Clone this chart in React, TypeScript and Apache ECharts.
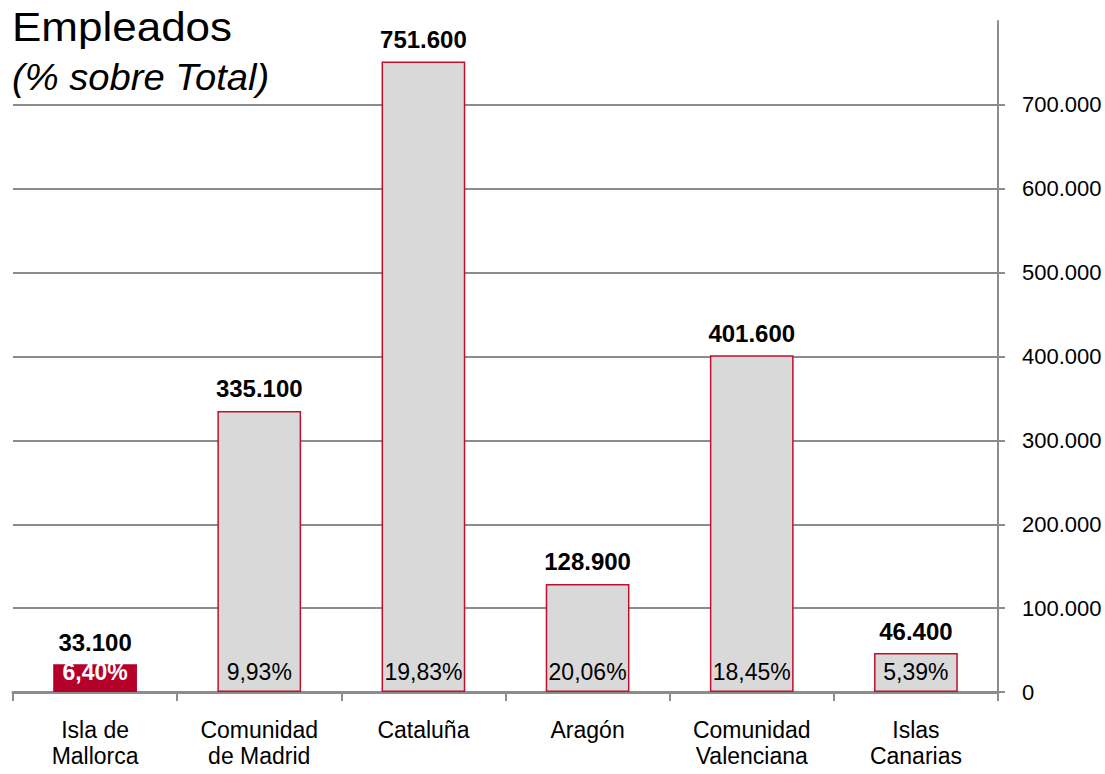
import React, { useEffect, useRef } from "react";
import * as echarts from "echarts";

const categories = [
  "Isla de\nMallorca",
  "Comunidad\nde Madrid",
  "Cataluña",
  "Aragón",
  "Comunidad\nValenciana",
  "Islas\nCanarias",
];
const empleados = [33100, 335100, 751600, 128900, 401600, 46400];
const percentLabels = ["6,40%", "9,93%", "19,83%", "20,06%", "18,45%", "5,39%"];
const highlightIndex = 0;
const titleText = "Empleados";
const subtitleText = "(% sobre Total)";
const yMin = 0;
const yMax = 800000;
const yInterval = 100000;

const fmt = (v: number) => String(Math.round(v)).replace(/\B(?=(\d{3})+(?!\d))/g, ".");

const FONT = "'Liberation Sans', Arial, sans-serif";
const RED = "#b5002a";
const GRAY = "#8c8c8c";

export default function App() {
  const ref = useRef<HTMLDivElement>(null);
  useEffect(() => {
    if (!ref.current) return;
    const chart = echarts.init(ref.current, undefined, { renderer: "svg" });
    chart.setOption({
      animation: false,
      backgroundColor: "#ffffff",
      graphic: [
        {
          type: "text",
          x: 12,
          y: 7,
          scaleX: 1.1,
          style: {
            text: titleText,
            font: `normal 40px ${FONT}`,
            fill: "#000",
            textVerticalAlign: "top",
            textAlign: "left",
          },
        },
        {
          type: "text",
          x: 12,
          y: 59,
          scaleX: 1.06,
          style: {
            text: subtitleText,
            font: `italic normal 36px ${FONT}`,
            fill: "#000",
            textVerticalAlign: "top",
            textAlign: "left",
          },
        },
      ],
      grid: { left: 13, right: 107, top: 21, bottom: 82 },
      xAxis: {
        type: "category",
        data: categories,
        axisLine: { show: true, lineStyle: { color: GRAY, width: 3 } },
        axisTick: { show: true, length: 9, lineStyle: { color: GRAY, width: 2 } },
        axisLabel: {
          margin: 25,
          fontFamily: FONT,
          fontSize: 23,
          lineHeight: 26,
          color: "#000",
          interval: 0,
        },
      },
      yAxis: {
        type: "value",
        position: "right",
        min: yMin,
        max: yMax,
        interval: yInterval,
        axisLine: { show: true, lineStyle: { color: GRAY, width: 2 } },
        axisTick: { show: true, inside: false, length: 7, lineStyle: { color: GRAY, width: 2 } },
        axisLabel: {
          margin: 24,
          fontFamily: FONT,
          fontSize: 22,
          color: "#000",
          showMaxLabel: false,
          formatter: (v: number) => fmt(v),
        },
        splitLine: { show: true, showMaxLine: false, lineStyle: { color: GRAY, width: 2 } },
      },
      series: [
        {
          type: "bar",
          barWidth: "51%",
          data: empleados.map((v, i) => ({
            value: v,
            itemStyle:
              i === highlightIndex
                ? { color: RED, borderColor: RED, borderWidth: 1.5 }
                : { color: "#d9d9d9", borderColor: "#c0102c", borderWidth: 1.5 },
          })),
          label: {
            show: true,
            position: "top",
            distance: 10,
            fontFamily: FONT,
            fontSize: 24,
            fontWeight: "bold",
            color: "#000",
            formatter: (p: any) => fmt(p.value),
          },
          z: 2,
        },
        {
          type: "bar",
          barWidth: "51%",
          barGap: "-100%",
          silent: true,
          data: empleados.map((v, i) => ({
            value: v,
            label:
              i === highlightIndex
                ? { color: "#ffffff", fontWeight: "bold" }
                : { color: "#000000", fontWeight: "normal" },
          })),
          itemStyle: { color: "rgba(0,0,0,0)", borderWidth: 0 },
          label: {
            show: true,
            position: "insideBottom",
            distance: 9,
            fontFamily: FONT,
            fontSize: 23,
            formatter: (p: any) => percentLabels[p.dataIndex],
          },
          z: 3,
        },
      ],
    });
    return () => chart.dispose();
  }, []);
  return (
    <div
      ref={ref}
      style={{ position: "fixed", left: 0, top: 0, width: 1105, height: 774, background: "#fff" }}
    />
  );
}
